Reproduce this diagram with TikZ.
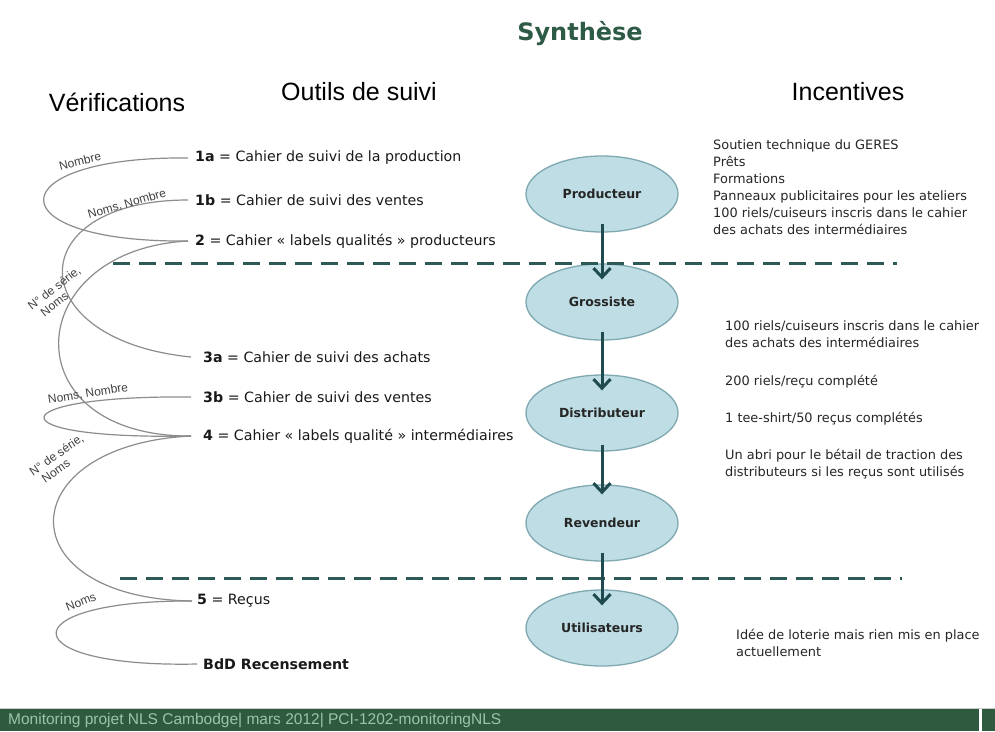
\documentclass[tikz,border=0pt]{standalone}
\usepackage{fontspec}
\setmainfont{DejaVu Sans}
\newfontfamily\lib{Liberation Sans}
\usetikzlibrary{shapes.geometric,arrows.meta}
\definecolor{titlegreen}{HTML}{2E5B45}
\definecolor{ellfill}{HTML}{BEDDE4}
\definecolor{elldraw}{HTML}{7FA8B0}
\definecolor{arrowc}{HTML}{1F4A4E}
\definecolor{dashc}{HTML}{2D5A56}
\definecolor{curvec}{HTML}{8C8C8C}
\definecolor{footg}{HTML}{2F5A3F}
\definecolor{foott}{HTML}{9DC4A6}
\begin{document}
\begin{tikzpicture}[x=1pt,y=-1pt,
  stage/.style={ellipse, draw=elldraw, line width=1.3pt, fill=ellfill, minimum width=152pt, minimum height=76pt, inner sep=0pt, font=\fontsize{12.5}{14}\selectfont\bfseries, text=black!85},
  tool/.style={anchor=west, inner sep=0pt, font=\fontsize{14.2}{16}\selectfont, text=black!90},
  incent/.style={anchor=north west, inner sep=0pt, align=left, font=\fontsize{12.9}{17}\selectfont, text=black!85},
  head/.style={font=\lib\fontsize{25}{28}\selectfont, text=black},
  vlink/.style={draw=curvec, line width=1.2pt},
  vlab/.style={font=\lib\fontsize{12}{13}\selectfont, text=black!75, inner sep=0pt, align=left},
  flow/.style={draw=arrowc, line width=3pt, -{Straight Barb[length=9pt,width=17pt]}},
  sep/.style={draw=dashc, line width=3pt, dash pattern=on 17pt off 9pt},
]
\useasboundingbox (0,0) rectangle (995,731);
\fill[white] (0,0) rectangle (995,731);

% title and headers
\node[font=\bfseries\fontsize{24}{27}\selectfont, text=titlegreen] (title) at (580,33) {Synthèse};
\node[head] (hver) at (117,102) {Vérifications};
\node[head] (hout) at (359,92) {Outils de suivi};
\node[head] (hinc) at (848,92) {Incentives};

% chain
\node[stage] (prod) at (602,194) {Producteur};
\node[stage] (gross) at (602,302) {Grossiste};
\node[stage] (dist) at (602,413) {Distributeur};
\node[stage] (rev) at (602,523) {Revendeur};
\node[stage] (util) at (602,628) {Utilisateurs};

% separators
\coordinate (d1a) at (113,263); \coordinate (d1b) at (897,263);
\coordinate (d2a) at (120,578); \coordinate (d2b) at (902,578);
\draw[sep] (d1a) -- (d1b);
\draw[sep] (d2a) -- (d2b);

\draw[flow] ([yshift=9pt]prod.south) -- ([yshift=-16pt]gross.north);
\draw[flow] ([yshift=9pt]gross.south) -- ([yshift=-16pt]dist.north);
\draw[flow] ([yshift=7pt]dist.south) -- ([yshift=-10pt]rev.north);
\draw[flow] ([yshift=9pt]rev.south) -- ([yshift=-16pt]util.north);

% tools
\node[tool] (t1a) at (195,158) {\textbf{1a} = Cahier de suivi de la production};
\node[tool] (t1b) at (195,200) {\textbf{1b} = Cahier de suivi des ventes};
\node[tool] (t2) at (195,241) {\textbf{2} = Cahier « labels qualités » producteurs};
\node[tool] (t3a) at (203,357) {\textbf{3a} = Cahier de suivi des achats};
\node[tool] (t3b) at (203,397) {\textbf{3b} = Cahier de suivi des ventes};
\node[tool] (t4) at (203,436) {\textbf{4} = Cahier « labels qualité » intermédiaires};
\node[tool] (t5) at (197,601) {\textbf{5} = Reçus};
\node[tool] (tbdd) at (203,664) {\textbf{BdD Recensement}};

\coordinate (e1a) at ([xshift=-7pt]t1a.west);
\coordinate (e1b) at ([xshift=-7pt]t1b.west);
\coordinate (e2) at ([xshift=-7pt]t2.west);
\coordinate (e3a) at ([xshift=-12pt]t3a.west);
\coordinate (e3b) at ([xshift=-12pt]t3b.west);
\coordinate (e4) at ([xshift=-12pt]t4.west);
\coordinate (e5) at ([xshift=-5pt]t5.west);
\coordinate (ebdd) at ([xshift=-6pt]tbdd.west);

% verification links
\draw[vlink] (e1a) .. controls (-2,156) and (-7,243) .. (e2);
\draw[vlink] (e1b) .. controls (20,200) and (20,340) .. (e3a);
\draw[vlink] (e2) .. controls (20,250) and (10,437) .. (e4);
\draw[vlink] (e3b) .. controls (0,395) and (-10,440) .. (e4);
\draw[vlink] (e4) .. controls (10,445) and (5,598) .. (e5);
\draw[vlink] (e5) .. controls (10,600) and (10,668) .. (ebdd);

\node[vlab, rotate=14] (l1) at (80,161) {Nombre};
\node[vlab, rotate=16] (l2) at (127,204) {Noms, Nombre};
\node[vlab, rotate=38] (l3) at (58,293) {N° de série,\\\hspace*{6pt}Noms};
\node[vlab, rotate=9] (l4) at (88,394) {Noms, Nombre};
\node[vlab, rotate=35] (l5) at (60,460) {N° de série,\\\hspace*{6pt}Noms};
\node[vlab, rotate=22] (l6) at (81,602) {Noms};

% incentives
\node[incent] (i1) at (713,139) {Soutien technique du GERES\\Prêts\\Formations\\Panneaux publicitaires pour les ateliers\\100 riels/cuiseurs inscris dans le cahier\\des achats des intermédiaires};
\node[incent] (i2) at (725,320) {100 riels/cuiseurs inscris dans le cahier\\des achats des intermédiaires};
\node[incent] (i3) at (725,375) {200 riels/reçu complété};
\node[incent] (i4) at (725,412) {1 tee-shirt/50 reçus complétés};
\node[incent] (i5) at (725,449) {Un abri pour le bétail de traction des\\distributeurs si les reçus sont utilisés};
\node[incent] (i6) at (736,629) {Idée de loterie mais rien mis en place\\actuellement};

% footer
\draw[gray!40, line width=1pt] (0,708.5) -- (995,708.5);
\fill[footg] (0,709) rectangle (979,731);
\fill[footg] (982,709) rectangle (995,731);
\node[anchor=west, inner sep=0pt, font=\lib\fontsize{15.5}{16}\selectfont, text=foott] (foot) at (8,721) {Monitoring projet NLS Cambodge| mars 2012| PCI-1202-monitoringNLS};
\end{tikzpicture}
\end{document}
